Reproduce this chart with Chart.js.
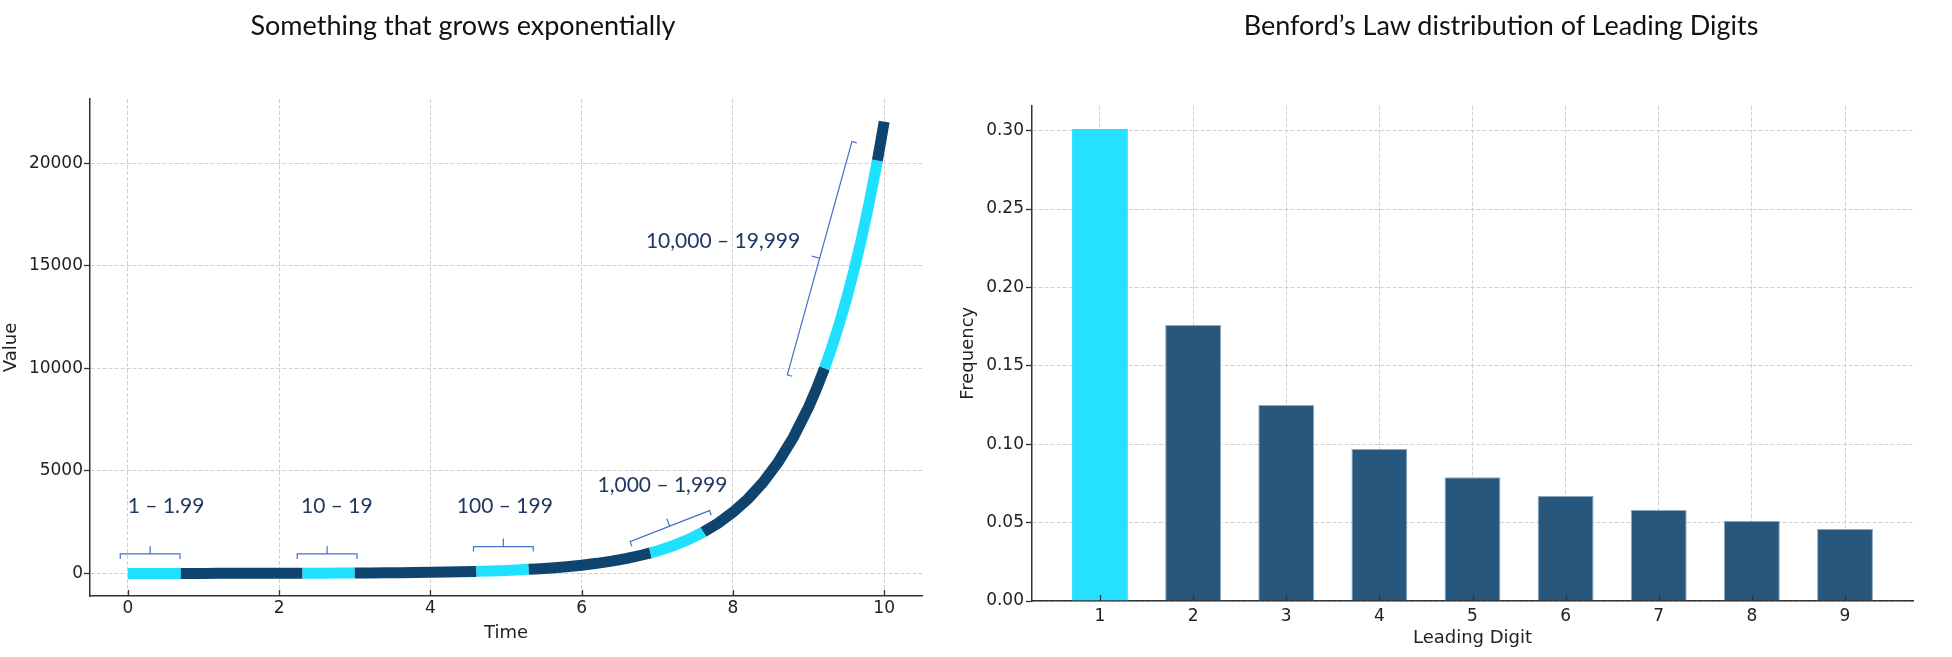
<!DOCTYPE html>
<html lang="en">
<head>
    <meta charset="UTF-8">
    <title>Exponential growth and Benford's Law</title>
    <script src="https://cdn.jsdelivr.net/npm/chart.js"></script>
    <style>
        body {
            margin: 0;
            background: #fff;
            width: 1952px;
            height: 657px;
            overflow: hidden;
            position: relative;
        }
        .box { position: absolute; top: 0; height: 657px; }
        #growthBox { left: 0; width: 940px; }
        #benfordBox { left: 940px; width: 1012px; }
        .title {
            position: absolute;
            top: 9px;
            font-family: Lato, sans-serif;
            font-size: 27px;
            line-height: 1.2;
            color: #111;
            white-space: nowrap;
            transform: translateX(-50%);
        }
    </style>
</head>
<body>
    <div class="box" id="growthBox"><canvas id="growthChart" width="940" height="657"></canvas></div>
    <div class="box" id="benfordBox"><canvas id="benfordChart" width="1012" height="657"></canvas></div>
    <div class="title" style="left:463px">Something that grows exponentially</div>
    <div class="title" style="left:1501px">Benford’s Law distribution of Leading Digits</div>

    <script>
        // exponential curve
        const timeVals = [0, 0.2, 0.4, 0.6, 0.7, 0.8, 1.0, 1.2, 1.4, 1.6, 1.8, 2.0, 2.2, 2.31, 2.4, 2.6, 2.8, 3.0,
            3.2, 3.4, 3.6, 3.8, 4.0, 4.2, 4.4, 4.6, 4.61, 4.8, 5.0, 5.2, 5.3, 5.4, 5.6, 5.8, 6.0, 6.2, 6.4,
            6.6, 6.8, 6.91, 7.0, 7.2, 7.4, 7.61, 7.8, 8.0, 8.2, 8.4, 8.6, 8.8, 9.0, 9.1, 9.211, 9.3, 9.4,
            9.5, 9.6, 9.7, 9.8, 9.9, 9.91, 9.95, 10.0];
        const valueVals = [1, 1.22, 1.49, 1.82, 2.01, 2.23, 2.72, 3.32, 4.06, 4.95, 6.05, 7.39, 9.03, 10.07, 11.0, 13.5, 16.4, 20.1,
            24.5, 30.0, 36.6, 44.7, 54.6, 66.7, 81.5, 99.5, 100.5, 121.5, 148.4, 181.3, 200.3, 221.4, 270.4, 330.3, 403.4, 492.7, 601.8,
            735.1, 897.8, 1002, 1097, 1339, 1636, 2018, 2441, 2981, 3641, 4447, 5432, 6634, 8103, 8955, 10007, 10938, 12088,
            13360, 14765, 16318, 18034, 19930, 20130, 20952, 22026];
        const growthXTicks = [0, 2, 4, 6, 8, 10];
        const growthYTicks = [0, 5000, 10000, 15000, 20000];

        // bracket annotations (data units)
        const rangeLabels = ['1 – 1.99', '10 – 19', '100 – 199', '1,000 – 1,999', '10,000 – 19,999'];
        const labelAt = [[0.0, 3291], [2.29, 3291], [4.35, 3291], [6.21, 4315], [6.85, 16178]];
        const bracketFrom = [[-0.1, 951], [2.24, 951], [4.57, 1307], [6.64, 1550], [8.72, 9678]];
        const bracketTo = [[0.69, 951], [3.03, 951], [5.36, 1307], [7.69, 3062], [9.574, 21053]];

        // Benford
        const leadingDigits = [1, 2, 3, 4, 5, 6, 7, 8, 9];
        const frequencies = [0.301, 0.176, 0.125, 0.097, 0.079, 0.067, 0.058, 0.051, 0.046];
        const benfordYTicks = [0, 0.05, 0.10, 0.15, 0.20, 0.25, 0.30];

        const CYAN = '#1fe1ff';
        const NAVY = '#0f446e';
        const BAR_CYAN = '#25e0ff';
        const BAR_NAVY = '#27577d';
        const tickFont = { family: 'DejaVu Sans', size: 17 };
        const titleFont = { family: 'DejaVu Sans', size: 18 };

        function leadingDigit(v) {
            return Math.floor(v / Math.pow(10, Math.floor(Math.log10(v) + 1e-9)));
        }

        // matplotlib-style inward ticks on the x axis
        const innerTicks = {
            id: 'innerTicks',
            afterDraw(chart) {
                const { ctx, chartArea, scales: { x } } = chart;
                ctx.save();
                ctx.strokeStyle = '#333';
                ctx.lineWidth = 1.3;
                x.ticks.forEach(t => {
                    const px = Math.round(x.getPixelForValue(t.value)) + 0.5;
                    ctx.beginPath();
                    ctx.moveTo(px, chartArea.bottom);
                    ctx.lineTo(px, chartArea.bottom - 6);
                    ctx.stroke();
                });
                ctx.restore();
            }
        };

        const brackets = {
            id: 'brackets',
            afterDraw(chart) {
                const { ctx, scales: { x, y } } = chart;
                ctx.save();
                ctx.strokeStyle = '#4472c4';
                ctx.lineWidth = 1.2;
                bracketFrom.forEach((p, i) => {
                    const x1 = x.getPixelForValue(p[0]), y1 = y.getPixelForValue(p[1]);
                    const x2 = x.getPixelForValue(bracketTo[i][0]), y2 = y.getPixelForValue(bracketTo[i][1]);
                    const len = Math.hypot(x2 - x1, y2 - y1);
                    const nx = -(y2 - y1) / len, ny = (x2 - x1) / len;
                    const mx = (x1 + x2) / 2, my = (y1 + y2) / 2;
                    ctx.beginPath();
                    ctx.moveTo(x1 + nx * 5, y1 + ny * 5);
                    ctx.lineTo(x1, y1);
                    ctx.lineTo(x2, y2);
                    ctx.lineTo(x2 + nx * 5, y2 + ny * 5);
                    ctx.moveTo(mx, my);
                    ctx.lineTo(mx - nx * 8, my - ny * 8);
                    ctx.stroke();
                });
                ctx.fillStyle = '#1f3864';
                ctx.font = '21px Lato';
                ctx.textAlign = 'left';
                ctx.textBaseline = 'middle';
                rangeLabels.forEach((t, i) => {
                    ctx.fillText(t, x.getPixelForValue(labelAt[i][0]), y.getPixelForValue(labelAt[i][1]));
                });
                ctx.restore();
            }
        };

        function gridOpts(drawTicks) {
            return { color: '#d0d0d0', lineWidth: 1, drawTicks: drawTicks, tickLength: 6, tickColor: '#333', tickWidth: 1.3 };
        }
        const borderOpts = { display: true, color: '#333', width: 1.5, dash: [4, 2] };

        new Chart(document.getElementById('growthChart'), {
            type: 'line',
            data: {
                datasets: [{
                    data: timeVals.map((t, i) => ({ x: t, y: valueVals[i] })),
                    borderWidth: 11,
                    borderColor: NAVY,
                    pointRadius: 0,
                    tension: 0,
                    segment: {
                        borderColor: c => leadingDigit(c.p0.parsed.y) === 1 ? CYAN : NAVY
                    }
                }]
            },
            options: {
                responsive: false,
                animation: false,
                layout: { padding: { left: 0, right: 18, top: 99, bottom: 0 } },
                plugins: { legend: { display: false }, tooltip: { enabled: false } },
                scales: {
                    x: {
                        type: 'linear', min: -0.5, max: 10.5, z: 1,
                        afterBuildTicks: a => { a.ticks = growthXTicks.map(v => ({ value: v })); },
                        afterFit: s => { s.height = 61; },
                        grid: gridOpts(false), border: borderOpts,
                        ticks: { font: tickFont, color: '#222', padding: 2, maxRotation: 0 },
                        title: { display: true, text: 'Time', font: titleFont, color: '#222', padding: { top: 0, bottom: 13 } }
                    },
                    y: {
                        type: 'linear', min: -1100, max: 23127, z: 1,
                        afterBuildTicks: a => { a.ticks = growthYTicks.map(v => ({ value: v })); },
                        afterFit: s => { s.width = 90; },
                        grid: gridOpts(true), border: borderOpts,
                        ticks: { font: tickFont, color: '#222', padding: 1, callback: v => String(v) },
                        title: { display: true, text: 'Value', font: titleFont, color: '#222', padding: { top: 1, bottom: 0 } }
                    }
                }
            },
            plugins: [innerTicks, brackets]
        });

        new Chart(document.getElementById('benfordChart'), {
            type: 'bar',
            data: {
                datasets: [{
                    data: leadingDigits.map((d, i) => ({ x: d, y: frequencies[i] })),
                    backgroundColor: leadingDigits.map(d => d === 1 ? BAR_CYAN : BAR_NAVY),
                    borderColor: leadingDigits.map(d => d === 1 ? BAR_CYAN : '#8fa6ba'),
                    borderWidth: 1,
                    categoryPercentage: 1,
                    barPercentage: 0.6
                }]
            },
            options: {
                responsive: false,
                animation: false,
                layout: { padding: { left: 0, right: 39, top: 105.6, bottom: 0 } },
                plugins: { legend: { display: false }, tooltip: { enabled: false } },
                scales: {
                    x: {
                        type: 'linear', min: 0.27, max: 9.73, z: 1, offset: false,
                        afterBuildTicks: a => { a.ticks = leadingDigits.map(v => ({ value: v })); },
                        afterFit: s => { s.height = 56; },
                        grid: Object.assign(gridOpts(false), { offset: false }), border: borderOpts,
                        ticks: { font: tickFont, color: '#222', padding: 5, maxRotation: 0 },
                        title: { display: true, text: 'Leading Digit', font: titleFont, color: '#222', padding: { top: 0, bottom: 8 } }
                    },
                    y: {
                        type: 'linear', min: 0, max: 0.316, z: 1,
                        afterBuildTicks: a => { a.ticks = benfordYTicks.map(v => ({ value: v })); },
                        afterFit: s => { s.width = 92; },
                        grid: gridOpts(true), border: borderOpts,
                        ticks: { font: tickFont, color: '#222', padding: 2, callback: v => Number(v).toFixed(2) },
                        title: { display: true, text: 'Frequency', font: titleFont, color: '#222', padding: { top: 18, bottom: 0 } }
                    }
                }
            },
            plugins: [innerTicks]
        });
    </script>
</body>
</html>
